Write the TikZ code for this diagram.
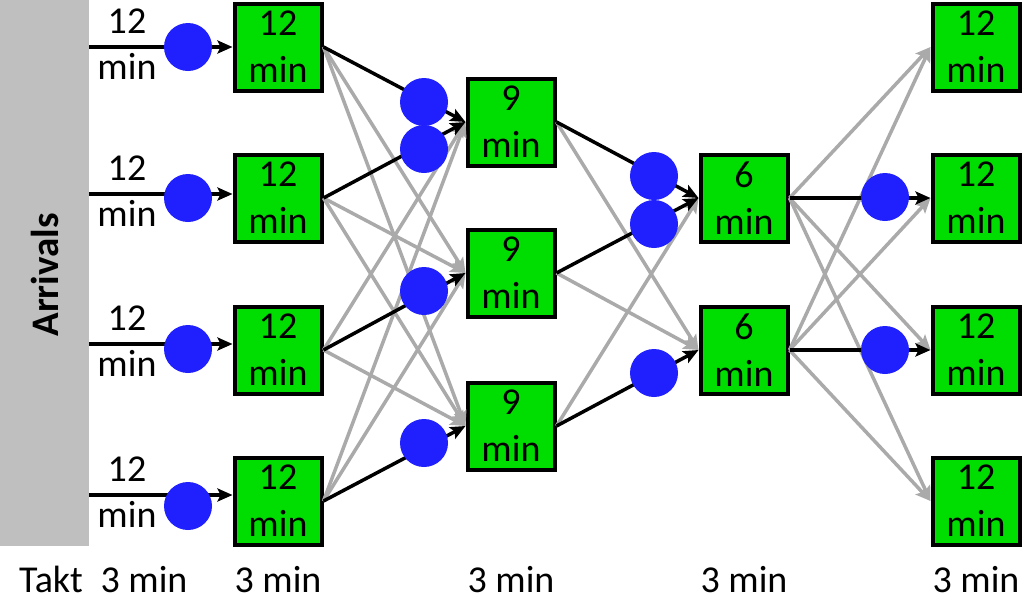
\documentclass[tikz,border=0pt]{standalone}
\usepackage{fontspec}
\setmainfont{Carlito}
\usetikzlibrary{arrows.meta}
\definecolor{boxgreen}{RGB}{0,221,0}
\definecolor{dotblue}{RGB}{32,32,255}
\definecolor{linegray}{RGB}{170,170,170}
\definecolor{bargray}{RGB}{191,191,191}
\tikzset{
  stage/.style={draw=black,line width=4pt,fill=boxgreen,minimum width=87pt,minimum height=87pt,inner sep=0pt,align=center,font=\fontsize{38}{47}\selectfont},
  dot/.style={circle,fill=dotblue,minimum size=48pt,inner sep=0pt},
  flow/.style={line width=3.5pt,black,-{Stealth[length=15pt,width=13pt,inset=3pt]}},
  alt/.style={line width=3.5pt,linegray,-{Stealth[length=15pt,width=13pt,inset=3pt]}},
  lbl/.style={font=\fontsize{38}{40}\selectfont,anchor=base,inner sep=0pt},
}
\begin{document}
\begin{tikzpicture}[x=1pt,y=-1pt]
\useasboundingbox (0,0) rectangle (1024,600);
% arrivals bar
\fill[bargray] (0,0) rectangle (89,546);
\node[rotate=90,font=\fontsize{39}{40}\selectfont\bfseries,inner sep=0pt] (arr) at (45,275) {Arrivals};
% stage boxes
\node[stage] (a1) at (278,47) {12\\min};
\node[stage] (a2) at (278,198) {12\\min};
\node[stage] (a3) at (278,350) {12\\min};
\node[stage] (a4) at (278,501) {12\\min};
\node[stage] (b1) at (511,122) {9\\min};
\node[stage] (b2) at (511,273) {9\\min};
\node[stage] (b3) at (511,426) {9\\min};
\node[stage] (c1) at (744,198) {6\\min};
\node[stage] (c2) at (744,350) {6\\min};
\node[stage] (d1) at (976,47) {12\\min};
\node[stage] (d2) at (976,198) {12\\min};
\node[stage] (d3) at (976,350) {12\\min};
\node[stage] (d4) at (976,501) {12\\min};
% arrival lines
\coordinate (s1) at (89,47);
\coordinate (s2) at (89,194);
\coordinate (s3) at (89,344);
\coordinate (s4) at (89,495);
\foreach \i in {1,2,3,4}{
  \draw[flow] (s\i) -- (s\i -| a\i.west);
}
\node[lbl] (t1a) at (127,33) {12};
\node[lbl] (t1b) at (127,79) {min};
\node[lbl] (t2a) at (127,180) {12};
\node[lbl] (t2b) at (127,226) {min};
\node[lbl] (t3a) at (127,330) {12};
\node[lbl] (t3b) at (127,376) {min};
\node[lbl] (t4a) at (127,481) {12};
\node[lbl] (t4b) at (127,527) {min};
% gray alternatives
\draw[alt] (a1.east) -- (b2.west);
\draw[alt] (a1.east) -- (b3.west);
\draw[alt] (a2.east) -- (b2.west);
\draw[alt] (a2.east) -- (b3.west);
\draw[alt] (a3.east) -- (b1.west);
\draw[alt] (a3.east) -- (b3.west);
\draw[alt] (a4.east) -- (b1.west);
\draw[alt] (a4.east) -- (b2.west);
\draw[alt] (b1.east) -- (c2.west);
\draw[alt] (b2.east) -- (c2.west);
\draw[alt] (b3.east) -- (c1.west);
\draw[alt] (c1.east) -- (d1.west);
\draw[alt] (c1.east) -- (d3.west);
\draw[alt] (c1.east) -- (d4.west);
\draw[alt] (c2.east) -- (d1.west);
\draw[alt] (c2.east) -- (d2.west);
\draw[alt] (c2.east) -- (d4.west);
% main flows
\draw[flow] (a1.east) -- (b1.west);
\draw[flow] (a2.east) -- (b1.west);
\draw[flow] (a3.east) -- (b2.west);
\draw[flow] (a4.east) -- (b3.west);
\draw[flow] (b1.east) -- (c1.west);
\draw[flow] (b2.east) -- (c1.west);
\draw[flow] (b3.east) -- (c2.west);
\draw[flow] (c1.east) -- (d2.west);
\draw[flow] (c2.east) -- (d3.west);
% buffers
\node[dot] (q1) at (188,47) {};
\node[dot] (q2) at (188,198) {};
\node[dot] (q3) at (188,349) {};
\node[dot] (q4) at (188,506) {};
\node[dot] (r1) at (424,102) {};
\node[dot] (r2) at (424,149) {};
\node[dot] (r3) at (424,291) {};
\node[dot] (r4) at (424,443) {};
\node[dot] (u1) at (654,176) {};
\node[dot] (u2) at (654,224) {};
\node[dot] (u3) at (654,373) {};
\node[dot] (v1) at (885,197) {};
\node[dot] (v2) at (885,350) {};
% takt row
\node[lbl] (takt) at (51,592) {Takt};
\node[lbl] (k1) at (144,592) {3 min};
\node[lbl] (k2) at (278,592) {3 min};
\node[lbl] (k3) at (511,592) {3 min};
\node[lbl] (k4) at (744,592) {3 min};
\node[lbl] (k5) at (976,592) {3 min};
\end{tikzpicture}
\end{document}
